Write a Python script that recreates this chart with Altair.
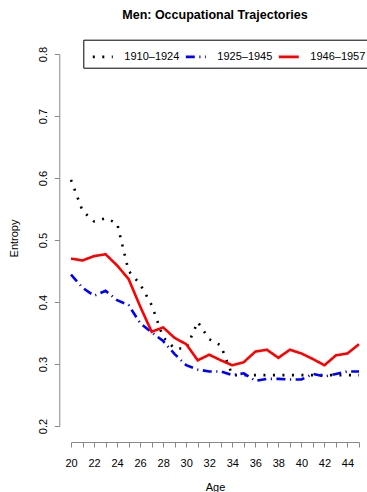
import altair as alt
import pandas as pd

ages = list(range(20, 46))
cohorts = ["1910–1924", "1925–1945", "1946–1957"]
colors = ["black", "blue", "red"]
dashes = [[2, 7.5], [9, 4.5, 1.2, 4.5], [1, 0]]

black = [0.597, 0.547, 0.530, 0.535, 0.527, 0.450, 0.429, 0.395, 0.343, 0.325,
         0.325, 0.368, 0.340, 0.330, 0.282, 0.282, 0.282, 0.282, 0.282, 0.282,
         0.282, 0.282, 0.282, 0.282, 0.282, 0.282]
blue = [0.444, 0.423, 0.410, 0.418, 0.403, 0.395, 0.366, 0.351, 0.337, 0.316,
        0.298, 0.291, 0.288, 0.288, 0.282, 0.285, 0.273, 0.276, 0.276, 0.275,
        0.275, 0.284, 0.280, 0.284, 0.288, 0.288]
red = [0.470, 0.467, 0.474, 0.477, 0.459, 0.437, 0.393, 0.352, 0.359, 0.342,
       0.332, 0.306, 0.315, 0.306, 0.298, 0.303, 0.320, 0.323, 0.310, 0.323,
       0.317, 0.308, 0.298, 0.314, 0.317, 0.332]

y_ticks = [0.2, 0.3, 0.4, 0.5, 0.6, 0.7, 0.8]

rows = []
for name, vals in zip(cohorts, [black, blue, red]):
    for a, v in zip(ages, vals):
        rows.append({"Age": a, "Entropy": v, "Cohort": name})
df = pd.DataFrame(rows)

FONT = "Liberation Sans"

chart = alt.Chart(df).mark_line(strokeWidth=2.6, strokeCap="butt", clip=False).encode(
    x=alt.X("Age:Q",
            scale=alt.Scale(domain=[20, 45], nice=False, zero=False),
            axis=alt.Axis(values=ages, title="Age", grid=False, offset=16,
                          tickSize=5, labelPadding=10, labelFontSize=11,
                          labelExpr="datum.value % 2 == 0 ? datum.label : ''",
                          labelOverlap=False, labelFlush=False,
                          titleX=144, titleY=48.7, titleBaseline="alphabetic",
                          titleAlign="center", titleFontWeight="normal",
                          titleFontSize=11)),
    y=alt.Y("Entropy:Q",
            scale=alt.Scale(domain=[0.2, 0.8], nice=False, zero=False),
            axis=alt.Axis(values=y_ticks, format=".1f", title="Entropy", grid=False,
                          offset=11.7, tickSize=5, labelPadding=7.8, labelFontSize=11,
                          labelAngle=-90, labelAlign="center", labelBaseline="alphabetic",
                          labelOverlap=False, labelFlush=False,
                          titleX=-42.3, titleY=184, titleAngle=-90,
                          titleBaseline="alphabetic", titleAlign="center",
                          titleFontWeight="normal", titleFontSize=11)),
    color=alt.Color("Cohort:N",
                    scale=alt.Scale(domain=cohorts, range=colors),
                    legend=alt.Legend(title=None, orient="none", legendX=12.3, legendY=-14.3,
                                      direction="horizontal", symbolType="stroke",
                                      symbolSize=400, symbolStrokeWidth=2.6,
                                      labelFontSize=11, labelOffset=10, columnPadding=0,
                                      padding=5.5, strokeColor="black", fillColor="white",
                                      cornerRadius=0, symbolOffset=2.5)),
    strokeDash=alt.StrokeDash("Cohort:N",
                              scale=alt.Scale(domain=cohorts, range=dashes),
                              legend=alt.Legend(title=None, orient="none", legendX=12.3,
                                                legendY=-14.3, direction="horizontal")),
    detail="Cohort:N",
).properties(
    width=288,
    height=372,
    padding={"left": 71, "top": 54, "right": 8, "bottom": 66},
    autosize=alt.AutoSizeParams(type="none"),
    title=alt.Title("Men: Occupational Trajectories", fontSize=12.5, fontWeight="bold",
                    font=FONT, color="black", anchor="middle", frame="group",
                    baseline="alphabetic", offset=8),
).configure_view(strokeWidth=0, stroke="transparent", strokeOpacity=0).configure_axis(
    labelFont=FONT, titleFont=FONT, labelColor="black", titleColor="black",
    domainColor="black", tickColor="black", domainWidth=1, tickWidth=1,
).configure_legend(
    labelFont=FONT, labelColor="black",
).configure(background="white",
            style={"cell": {"stroke": "transparent", "strokeWidth": 0}})

chart.save("out.html", embed_options={"renderer": "svg", "actions": False})
